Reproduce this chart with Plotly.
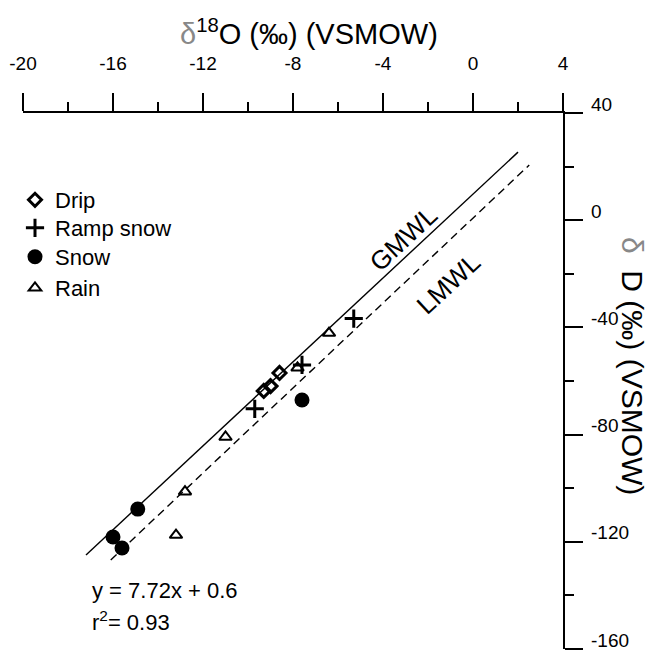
import plotly.graph_objects as go

# ---- data ----
drip_x = [-9.3, -9.0, -8.6]
drip_y = [-63.7, -61.9, -57.0]
ramp_x = [-9.7, -7.6, -5.3]
ramp_y = [-70.4, -54.0, -36.7]
snow_x = [-14.9, -16.0, -15.6, -7.6]
snow_y = [-107.8, -118.2, -122.3, -67.1]
rain_x = [-6.4, -7.8, -11.0, -12.8, -13.2]
rain_y = [-42.1, -55.1, -80.9, -101.3, -117.5]

gmwl_x = [-17.2, 2.0]
gmwl_y = [-124.9, 25.4]
lmwl_x = [-16.1, 2.5]
lmwl_y = [-126.8, 20.6]

x_ticks = [-20, -16, -12, -8, -4, 0, 4]
x_tick_text = ["-20", "-16", "-12", "-8", "-4", "0", "4"]
y_ticks = [40, 0, -40, -80, -120, -160]
y_tick_text = ["40", "0", "-40", "-80", "-120", "-160"]

series_names = ["Drip", "Ramp snow", "Snow", "Rain"]
legend_rows_px = [200, 228, 257, 288]   # vertical centres of legend rows

FONT = "Liberation Sans, Arial, sans-serif"
BLACK = "#000000"

W, H = 661, 651
M_L, M_R, M_T, M_B = 23, 98, 113, 2
PLOT_H = H - M_T - M_B

fig = go.Figure()
fig.add_trace(go.Scatter(x=gmwl_x, y=gmwl_y, mode="lines", showlegend=False,
                         line=dict(color=BLACK, width=1.4)))
fig.add_trace(go.Scatter(x=lmwl_x, y=lmwl_y, mode="lines", showlegend=False,
                         line=dict(color=BLACK, width=1.4, dash="8px,5px")))
fig.add_trace(go.Scatter(x=drip_x, y=drip_y, mode="markers", name=series_names[0],
                         legend="legend",
                         marker=dict(symbol="diamond-open", size=10, color=BLACK,
                                     line=dict(width=3, color=BLACK))))
fig.add_trace(go.Scatter(x=ramp_x, y=ramp_y, mode="markers", name=series_names[1],
                         legend="legend2",
                         marker=dict(symbol="cross-thin-open", size=13, color=BLACK,
                                     line=dict(width=3, color=BLACK))))
fig.add_trace(go.Scatter(x=snow_x, y=snow_y, mode="markers", name=series_names[2],
                         legend="legend3",
                         marker=dict(symbol="circle", size=15, color=BLACK,
                                     line=dict(width=0))))
fig.add_trace(go.Scatter(x=rain_x, y=rain_y, mode="markers", name=series_names[3],
                         legend="legend4",
                         marker=dict(symbol="triangle-up-open", size=11, color=BLACK,
                                     line=dict(width=2, color=BLACK))))

annotations = []
for v, t in zip(y_ticks, y_tick_text):
    annotations.append(dict(x=1, xref="paper", y=v, yref="y", text=t, showarrow=False,
                            xanchor="left", yanchor="middle", xshift=26, yshift=9,
                            font=dict(family=FONT, size=19, color=BLACK)))

annotations += [
    dict(x=0.53, xref="paper", y=1, yref="paper", yanchor="middle", xanchor="center",
         yshift=81,
         text="<span style='color:#888'>δ</span><sup>18</sup>O (‰) (VSMOW)",
         showarrow=False, font=dict(family=FONT, size=29, color=BLACK)),
    dict(x=-3.11, y=-7.0, text="GMWL", showarrow=False, textangle=-43,
         font=dict(family=FONT, size=26, color=BLACK)),
    dict(x=-1.11, y=-23.8, text="LMWL", showarrow=False, textangle=-43,
         font=dict(family=FONT, size=26, color=BLACK)),
    dict(x=0.124, xref="paper", y=0.110, yref="paper", xanchor="left", yanchor="middle",
         text="y = 7.72x + 0.6", showarrow=False,
         font=dict(family=FONT, size=22, color=BLACK)),
    dict(x=0.124, xref="paper", y=0.052, yref="paper", xanchor="left", yanchor="middle",
         text="r<sup>2</sup>= 0.93", showarrow=False,
         font=dict(family=FONT, size=22, color=BLACK)),
    dict(x=1, xref="paper", y=0.5, yref="paper", xanchor="center", yanchor="middle",
         xshift=70, yshift=15, textangle=90,
         text="<span style='color:#888'>δ</span>  D (‰) (VSMOW)", showarrow=False,
         font=dict(family=FONT, size=30, color=BLACK)),
]

legend_x = (15 - M_L) / (W - M_L - M_R)
legends = {}
for i, py in enumerate(legend_rows_px):
    key = "legend" if i == 0 else f"legend{i + 1}"
    legends[key] = dict(x=legend_x, xanchor="left",
                        y=1 - (py - M_T) / PLOT_H, yanchor="middle",
                        font=dict(family=FONT, size=22, color=BLACK),
                        bgcolor="rgba(0,0,0,0)", itemwidth=30)

fig.update_layout(
    width=W, height=H,
    margin=dict(l=M_L, r=M_R, t=M_T, b=M_B),
    paper_bgcolor="white", plot_bgcolor="white",
    font=dict(family=FONT, color=BLACK),
    showlegend=True,
    annotations=annotations,
    xaxis=dict(range=[-20, 4], side="top", showgrid=False, zeroline=False,
               showline=True, linecolor=BLACK, linewidth=1.5,
               ticks="outside", ticklen=18, tickwidth=1.5, tickcolor=BLACK,
               tickvals=x_ticks, ticktext=x_tick_text, ticklabelstandoff=16,
               tickfont=dict(family=FONT, size=19, color=BLACK),
               minor=dict(dtick=2, tick0=0, ticks="outside", ticklen=9, tickwidth=1.5,
                          tickcolor=BLACK, showgrid=False)),
    yaxis=dict(range=[-160, 40], side="right", showgrid=False, zeroline=False,
               showline=True, linecolor=BLACK, linewidth=1.5,
               ticks="outside", ticklen=18, tickwidth=1.5, tickcolor=BLACK,
               tickvals=y_ticks, showticklabels=False,
               minor=dict(dtick=20, tick0=0, ticks="outside", ticklen=9, tickwidth=1.5,
                          tickcolor=BLACK, showgrid=False)),
    **legends,
)

fig.write_html("out.html")
